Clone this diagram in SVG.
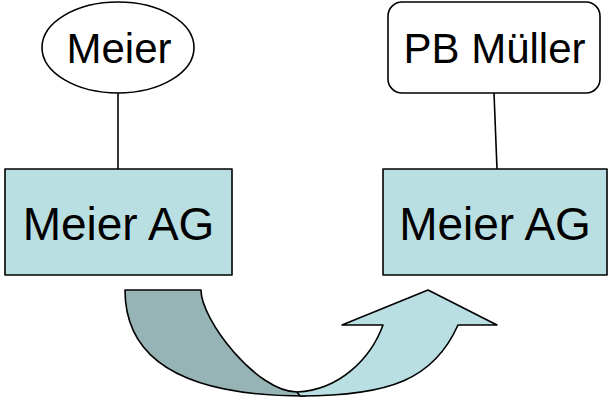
<svg xmlns="http://www.w3.org/2000/svg" width="608" height="398" viewBox="0 0 608 398">
<style>
.shape{stroke:#000;stroke-width:1.6;stroke-linejoin:round}
.box{fill:#B9DFE2}
.white{fill:#fff}
.t{font-family:"Liberation Sans",Arial,sans-serif;fill:#000;text-anchor:middle}
.conn{stroke:#000;stroke-width:1.6;fill:none}
</style>
<rect width="608" height="398" fill="#fff"/>
<g id="connectors">
<line class="conn" x1="118" y1="93" x2="118" y2="169"/>
<line class="conn" x1="494" y1="93" x2="497" y2="169"/>
</g>
<g id="meier">
<ellipse class="shape white" cx="118" cy="47.5" rx="76" ry="45.5"/>
<text class="t" x="119" y="63" font-size="42">Meier</text>
</g>
<g id="pb-mueller">
<rect class="shape white" x="388" y="2" width="212" height="91" rx="14" ry="14"/>
<text class="t" x="494.5" y="63" font-size="42">PB Müller</text>
</g>
<g id="meier-ag-left">
<rect class="shape box" x="5" y="169" width="227" height="106"/>
<text class="t" x="118.5" y="240" font-size="46">Meier AG</text>
</g>
<g id="meier-ag-right">
<rect class="shape box" x="383" y="169" width="224" height="106"/>
<text class="t" x="495" y="240" font-size="46">Meier AG</text>
</g>
<g id="curved-arrow">
<path class="shape" fill="#96B4B6" d="M125,290 L201,290 C201,320 257,392 297,392 L305,396 C185,396 125,360 125,290 Z"/>
<path class="shape box" d="M383,325 L342,325 L428,290 L497,325 L458,325 C434,379 390,396 300,396 L297,392 C340,390 371,358 383,325 Z"/>
</g>
</svg>
